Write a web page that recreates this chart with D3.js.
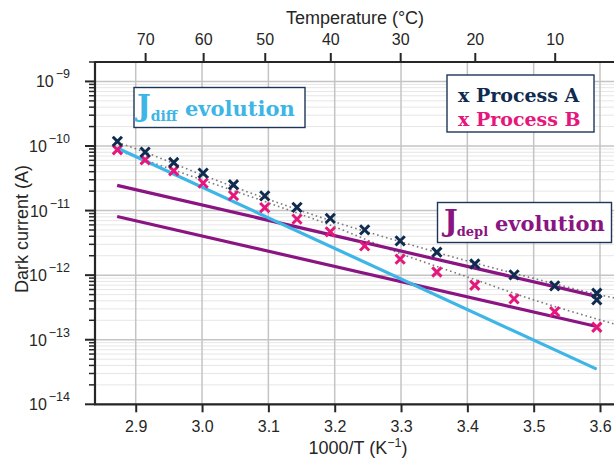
<!DOCTYPE html>
<html>
<head>
<meta charset="utf-8">
<script src="https://cdn.jsdelivr.net/npm/d3@7/dist/d3.min.js"></script>
<style>
  html, body { margin: 0; padding: 0; background: #fff; }
  svg { display: block; }
</style>
</head>
<body>
<svg id="chart" width="614" height="462"></svg>
<script>
// ---------------- DATA ----------------
// Measurement temperatures (°C)
const tempsB = [75, 70, 65, 60, 55, 50, 45, 40, 35, 30, 25, 20, 15, 10, 5];
const tempsA = [75, 70, 65, 60, 55, 50, 45, 40, 35, 30, 25, 20, 15, 10, 5, 5];
// Dark current (A)
const procA = [1.18e-10, 8.05e-11, 5.55e-11, 3.80e-11, 2.51e-11, 1.69e-11, 1.12e-11, 7.58e-12,
               5.03e-12, 3.40e-12, 2.27e-12, 1.49e-12, 1.01e-12, 6.82e-13, 5.25e-13, 4.14e-13];
const procB = [8.74e-11, 6.11e-11, 4.13e-11, 2.66e-11, 1.71e-11, 1.11e-11, 7.37e-12, 4.69e-12,
               2.84e-12, 1.77e-12, 1.12e-12, 6.98e-13, 4.29e-13, 2.72e-13, 1.56e-13];
// Dotted fit curves (1000/T, A)
const fitX  = [2.872, 2.9, 3.0, 3.1, 3.2, 3.3, 3.4, 3.5, 3.6, 3.621];
const fitA  = [1.14e-10, 9.06e-11, 3.58e-11, 1.49e-11, 6.68e-12, 3.27e-12, 1.66e-12, 8.91e-13, 4.94e-13, 4.44e-13];
const fitB  = [8.59e-11, 6.81e-11, 2.99e-11, 1.32e-11, 5.60e-12, 2.14e-12, 9.40e-13, 4.14e-13, 2.03e-13, 1.76e-13];
// Component lines (1000/T, A)
const compX     = [2.872, 3.595];
const jdiff     = [9.3e-11, 3.5e-14];
const jdeplHigh = [2.46e-11, 4.7e-13];
const jdeplLow  = [8.1e-12, 1.6e-13];
// Axis ticks
const xTicks = [2.9, 3.0, 3.1, 3.2, 3.3, 3.4, 3.5, 3.6];
const tempTicks = [70, 60, 50, 40, 30, 20, 10];
const yDecades = [-14, -13, -12, -11, -10, -9];

// ---------------- LAYOUT ----------------
const svg = d3.select("#chart");
const L = 95, R = 614, T = 62, B = 404.3;
const invT = c => 1000 / (c + 273.15);

const x = d3.scaleLinear().domain([2.8386, 3.6211]).range([L, R]);
const y = d3.scaleLog().domain([2e-9, 1e-14]).range([T, B]);

const C = {
  axis: "#262626", gridMajor: "#c4c4c4", gridMinor: "#e6e6e6",
  navy: "#0f2b4f", pink: "#e5177c", blue: "#3db5e6", purple: "#8a1582", dot: "#7a7a7a"
};
const sans = "'Liberation Sans', Arial, sans-serif";
const serif = "'DejaVu Serif', 'Liberation Serif', serif";

// ---------------- GRID ----------------
const minorVals = [];
for (let e = -14; e <= -9; e++) for (let m = 2; m <= 9; m++) {
  const v = m * Math.pow(10, e);
  if (v <= 2e-9) minorVals.push(v);
}
const grid = svg.append("g");
grid.selectAll(".hmin").data(minorVals).enter().append("line")
  .attr("x1", L).attr("x2", R).attr("y1", d => y(d)).attr("y2", d => y(d))
  .attr("stroke", C.gridMinor).attr("stroke-width", 1);
grid.selectAll(".hmaj").data(yDecades).enter().append("line")
  .attr("x1", L).attr("x2", R).attr("y1", d => y(Math.pow(10, d))).attr("y2", d => y(Math.pow(10, d)))
  .attr("stroke", C.gridMajor).attr("stroke-width", 1.5);
grid.selectAll(".vmaj").data(xTicks).enter().append("line")
  .attr("y1", T).attr("y2", B).attr("x1", d => x(d)).attr("x2", d => x(d))
  .attr("stroke", C.gridMajor).attr("stroke-width", 1.5);

// ---------------- LINES ----------------
const lineXY = d3.line().x(d => x(d[0])).y(d => y(d[1]));
const lineCurve = d3.line().x(d => x(d[0])).y(d => y(d[1])).curve(d3.curveMonotoneX);
const zip = (xs, ys) => xs.map((v, i) => [v, ys[i]]);

svg.append("path").attr("d", lineCurve(zip(fitX, fitA)))
  .attr("fill", "none").attr("stroke", C.dot).attr("stroke-width", 1.6).attr("stroke-dasharray", "1.6,3");
svg.append("path").attr("d", lineCurve(zip(fitX, fitB)))
  .attr("fill", "none").attr("stroke", C.dot).attr("stroke-width", 1.6).attr("stroke-dasharray", "1.6,3");

[[jdeplHigh, C.purple], [jdeplLow, C.purple], [jdiff, C.blue]].forEach(([ys, col]) => {
  svg.append("path").attr("d", lineXY(zip(compX, ys)))
    .attr("fill", "none").attr("stroke", col).attr("stroke-width", 3.2).attr("stroke-linecap", "butt");
});

// ---------------- MARKERS ----------------
function crosses(temps, vals, col) {
  const s = 4.6;
  svg.append("g").selectAll("path").data(temps.map((t, i) => [invT(t), vals[i]])).enter().append("path")
    .attr("d", d => {
      const cx = x(d[0]), cy = y(d[1]);
      return `M${cx - s},${cy - s}L${cx + s},${cy + s}M${cx - s},${cy + s}L${cx + s},${cy - s}`;
    })
    .attr("stroke", col).attr("stroke-width", 3).attr("fill", "none");
}
crosses(tempsB, procB, C.pink);
crosses(tempsA, procA, C.navy);

// ---------------- AXES ----------------
// bottom
const xAxis = svg.append("g").attr("transform", `translate(0,${B})`)
  .call(d3.axisBottom(x).tickValues(xTicks).tickFormat(d3.format(".1f")).tickSize(8).tickSizeOuter(0).tickPadding(8));
xAxis.select(".domain").remove();
xAxis.selectAll("line").attr("stroke", C.axis).attr("stroke-width", 2);
xAxis.selectAll("text").attr("font-family", sans).attr("font-size", 16).attr("fill", C.axis);

// top (temperature)
const tAxis = svg.append("g").attr("transform", `translate(0,${T})`)
  .call(d3.axisTop(x).tickValues(tempTicks.map(invT)).tickFormat((d, i) => tempTicks[i])
    .tickSize(9).tickSizeOuter(0).tickPadding(8));
tAxis.select(".domain").remove();
tAxis.selectAll("line").attr("stroke", C.axis).attr("stroke-width", 2);
tAxis.selectAll("text").attr("font-family", sans).attr("font-size", 16).attr("fill", C.axis);

// left: major + minor ticks
const yAxisG = svg.append("g");
yAxisG.selectAll(".ymin").data(minorVals).enter().append("line")
  .attr("x1", L - 6).attr("x2", L).attr("y1", d => y(d)).attr("y2", d => y(d))
  .attr("stroke", C.axis).attr("stroke-width", 1.5);
yAxisG.selectAll(".ymaj").data(yDecades).enter().append("line")
  .attr("x1", L - 10).attr("x2", L).attr("y1", d => y(Math.pow(10, d))).attr("y2", d => y(Math.pow(10, d)))
  .attr("stroke", C.axis).attr("stroke-width", 2);
const yl = yAxisG.selectAll(".ylab").data(yDecades).enter().append("text")
  .attr("x", 70).attr("y", d => y(Math.pow(10, d)) + 6)
  .attr("text-anchor", "end").attr("font-family", sans).attr("fill", C.axis);
yl.append("tspan").attr("font-size", 16).text("10");
yl.append("tspan").attr("font-size", 12.5).attr("dx", 2).attr("dy", -9).text(d => "\u2212" + Math.abs(d));

// frame lines
svg.append("line").attr("x1", L).attr("x2", L).attr("y1", T).attr("y2", B).attr("stroke", C.axis).attr("stroke-width", 2.2);
svg.append("line").attr("x1", L - 1).attr("x2", R).attr("y1", T).attr("y2", T).attr("stroke", C.axis).attr("stroke-width", 2.2);
svg.append("line").attr("x1", L - 1).attr("x2", R).attr("y1", B).attr("y2", B).attr("stroke", C.axis).attr("stroke-width", 2.2);

// axis titles
svg.append("text").attr("x", 355).attr("y", 24).attr("text-anchor", "middle")
  .attr("font-family", sans).attr("font-size", 18).attr("fill", C.axis).text("Temperature (°C)");
const xt = svg.append("text").attr("x", 358).attr("y", 454).attr("text-anchor", "middle")
  .attr("font-family", sans).attr("font-size", 18).attr("fill", C.axis);
xt.append("tspan").text("1000/T (K");
xt.append("tspan").attr("font-size", 12.5).attr("dy", -7).text("\u22121");
xt.append("tspan").attr("dy", 7).text(")");
svg.append("text").attr("transform", "translate(28,229) rotate(-90)").attr("text-anchor", "middle")
  .attr("font-family", sans).attr("font-size", 18).attr("fill", C.axis).text("Dark current (A)");

// ---------------- ANNOTATION BOXES ----------------
function box(x0, y0, w, h) {
  svg.append("rect").attr("x", x0).attr("y", y0).attr("width", w).attr("height", h)
    .attr("fill", "#fff").attr("stroke", "#1d3557").attr("stroke-width", 1.4);
}
// J_diff
box(134, 87.5, 171, 40);
const td = svg.append("text").attr("x", 137).attr("y", 116).attr("font-family", serif)
  .attr("font-weight", "bold").attr("fill", C.blue);
td.append("tspan").attr("font-size", 29).text("J");
td.append("tspan").attr("font-size", 14).attr("dy", 5).text("diff");
td.append("tspan").attr("font-size", 21).attr("dy", -5).attr("x", 185).text("evolution");

// J_depl
box(437.5, 202.5, 174, 40);
const tp = svg.append("text").attr("x", 444).attr("y", 231).attr("font-family", serif)
  .attr("font-weight", "bold").attr("fill", C.purple);
tp.append("tspan").attr("font-size", 29).text("J");
tp.append("tspan").attr("font-size", 13).attr("dx", -1).attr("dy", 5).text("depl");
tp.append("tspan").attr("font-size", 21).attr("dy", -5).attr("x", 495).text("evolution");

// Legend
box(447, 75, 147, 57);
svg.append("text").attr("x", 458).attr("y", 102).attr("font-family", serif).attr("font-weight", "bold")
  .attr("font-size", 19).attr("fill", C.navy).text("x Process A");
svg.append("text").attr("x", 458).attr("y", 126).attr("font-family", serif).attr("font-weight", "bold")
  .attr("font-size", 19).attr("fill", C.pink).text("x Process B");
</script>
</body>
</html>
